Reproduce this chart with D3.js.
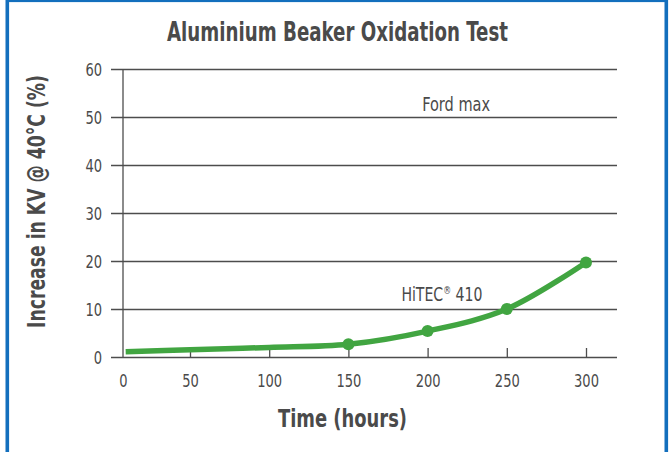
<!DOCTYPE html>
<html>
<head>
<meta charset="utf-8">
<script src="https://cdn.jsdelivr.net/npm/d3@7/dist/d3.min.js"></script>
<style>
  html, body { margin: 0; padding: 0; background: #fff; }
  svg { display: block; }
  text { font-family: "Liberation Sans Narrow", "DejaVu Sans Condensed", "Roboto Condensed", sans-serif; fill: #4a4a4a; }
</style>
</head>
<body>
<svg id="chart" width="669" height="452"></svg>
<script>
const title = "Aluminium Beaker Oxidation Test";
const xTitle = "Time (hours)";
const yTitle = "Increase in KV @ 40°C (%)";
const hours = [2, 50, 100, 150, 200, 250, 300];
const increase = [1.1, 1.5, 2.0, 2.65, 5.4, 10.0, 19.7];
const markerHours = [150, 200, 250, 300];
const xTickValues = [0, 50, 100, 150, 200, 250, 300];
const yTickValues = [0, 10, 20, 30, 40, 50, 60];
const fordLabel = { text: "Ford max", hour: 218, value: 51.25 };
const hitecLabel = { text: "HiTEC", sup: "®", rest: " 410", hour: 209, value: 11.67 };

const svg = d3.select("#chart");
const green = "#41a541";
const gridColor = "#4d4d4d";

// border
svg.append("rect")
  .attr("x", 7.3).attr("y", 0.3)
  .attr("width", 659).attr("height", 480)
  .attr("fill", "none")
  .attr("stroke", "#136fbd")
  .attr("stroke-width", 3.6);

const x = d3.scaleLinear().domain([0, 50, 300]).range([123, 190, 586]);
const y = d3.scaleLinear().domain([0, 60]).range([357, 69]);
const gridLeft = 111, gridRight = 617;
const digitW = 8.3;

// title
svg.append("text")
  .attr("x", 337.5).attr("y", 41)
  .attr("text-anchor", "middle")
  .attr("font-size", 26).attr("font-weight", "bold")
  .attr("textLength", 341).attr("lengthAdjust", "spacingAndGlyphs")
  .text(title);

// y gridlines + labels
const yAxis = d3.axisLeft(y)
  .tickValues(yTickValues)
  .tickSizeInner(-(gridRight - gridLeft))
  .tickSizeOuter(0)
  .tickPadding(9);
const gy = svg.append("g").attr("transform", `translate(${gridLeft},0)`).call(yAxis);
gy.attr("font-family", null).attr("font-size", null);
gy.select(".domain").remove();
gy.selectAll(".tick line").attr("stroke", gridColor).attr("stroke-width", 1.3);
gy.selectAll(".tick text")
  .attr("font-size", 17.5)
  .attr("fill", "#4a4a4a")
  .attr("dy", "0.36em")
  .attr("textLength", d => String(d).length * digitW)
  .attr("lengthAdjust", "spacingAndGlyphs");

// y axis line
svg.append("line")
  .attr("x1", x(0)).attr("x2", x(0))
  .attr("y1", y(60)).attr("y2", y(0))
  .attr("stroke", gridColor).attr("stroke-width", 1.3);

// x axis ticks + labels
const xAxis = d3.axisBottom(x)
  .tickValues(xTickValues)
  .tickSizeInner(-9)
  .tickSizeOuter(0)
  .tickPadding(18);
const gx = svg.append("g").attr("transform", `translate(0,${y(0)})`).call(xAxis);
gx.attr("font-family", null).attr("font-size", null);
gx.select(".domain").remove();
gx.selectAll(".tick line")
  .attr("stroke", gridColor).attr("stroke-width", 1.3)
  .filter(d => d === 0).remove();
gx.selectAll(".tick text")
  .attr("font-size", 17.5)
  .attr("fill", "#4a4a4a")
  .attr("textLength", d => String(d).length * digitW)
  .attr("lengthAdjust", "spacingAndGlyphs");

// axis titles
svg.append("text")
  .attr("x", 342.5).attr("y", 427)
  .attr("text-anchor", "middle")
  .attr("font-size", 25).attr("font-weight", "bold")
  .attr("textLength", 129).attr("lengthAdjust", "spacingAndGlyphs")
  .text(xTitle);

svg.append("text")
  .attr("transform", "translate(45,201.5) rotate(-90)")
  .attr("text-anchor", "middle")
  .attr("font-size", 24).attr("font-weight", "bold")
  .attr("textLength", 253).attr("lengthAdjust", "spacingAndGlyphs")
  .text(yTitle);

// curve
const pts = hours.map((h, i) => [h, increase[i]]);
const line = d3.line()
  .x(d => x(d[0])).y(d => y(d[1]))
  .curve(d3.curveCatmullRom.alpha(0.5));
svg.append("path")
  .attr("d", line(pts))
  .attr("fill", "none")
  .attr("stroke", green)
  .attr("stroke-width", 5.5);

svg.selectAll("circle.pt")
  .data(pts.filter(d => markerHours.includes(d[0])))
  .join("circle")
  .attr("class", "pt")
  .attr("cx", d => x(d[0])).attr("cy", d => y(d[1]))
  .attr("r", 6)
  .attr("fill", green);

// annotations (narrowed to match condensed face)
function fitText(sel, cx, by, targetW) {
  const w = sel.node().getBBox().width;
  const s = targetW / w;
  sel.attr("transform", `translate(${cx},${by}) scale(${s},1)`);
}
const ford = svg.append("text")
  .attr("text-anchor", "middle")
  .attr("font-size", 19.5)
  .text(fordLabel.text);
fitText(ford, x(fordLabel.hour), y(fordLabel.value), 68);

const hitec = svg.append("text")
  .attr("text-anchor", "middle")
  .attr("font-size", 19.5);
hitec.append("tspan").text(hitecLabel.text);
hitec.append("tspan").attr("font-size", 11).attr("dy", -7).text(hitecLabel.sup);
hitec.append("tspan").attr("dy", 7).text(hitecLabel.rest);
fitText(hitec, x(hitecLabel.hour), y(hitecLabel.value), 81);
</script>
</body>
</html>
